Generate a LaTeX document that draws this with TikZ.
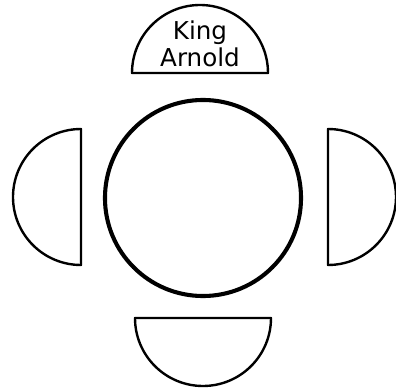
\documentclass[tikz,border=0pt]{standalone}
\usepackage{fontspec}
\setmainfont{DejaVu Sans}
\usepackage{tikz}

\begin{document}
\begin{tikzpicture}[x=0.025cm,y=0.025cm,
    seat/.style={draw=black,line width=1.7pt,line join=round},
    table/.style={draw=black,circle,line width=2.9pt,minimum size=4.9cm,inner sep=0pt}]
  \useasboundingbox (0,0) rectangle (396,389);

  \node[table] (table) at (203,191) {};

  \draw[seat] (132,316) arc[start angle=180,end angle=0,radius=68] -- cycle;
  \draw[seat] (135,71) arc[start angle=180,end angle=360,radius=68] -- cycle;
  \draw[seat] (81,260) arc[start angle=90,end angle=270,radius=68] -- cycle;
  \draw[seat] (328,260) arc[start angle=90,end angle=-90,radius=68] -- cycle;

  \node[align=center,font=\fontsize{17.5}{19}\selectfont,inner sep=0pt] (king) at (200,345) {King\\Arnold};
\end{tikzpicture}
\end{document}
